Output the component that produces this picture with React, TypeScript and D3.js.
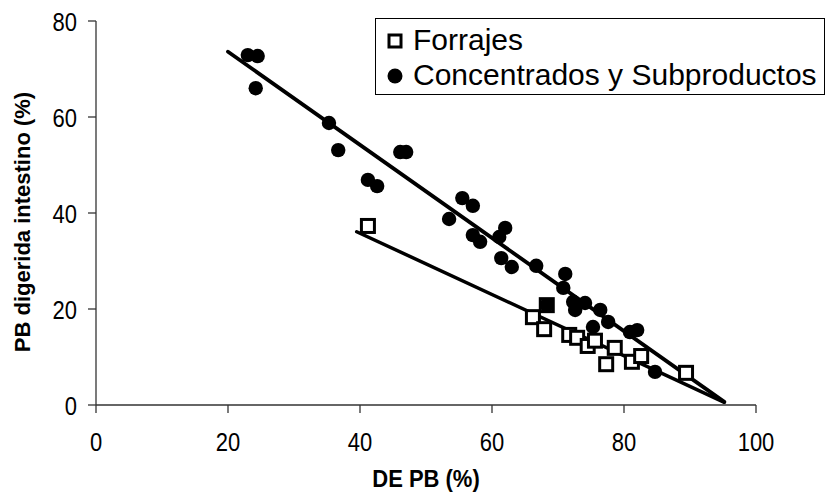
import React from "react";
import * as d3 from "d3";

// Forrajes (open squares): [DE PB %, PB digerida intestino %]
const forrajesX = [41.2, 66.2, 68.3, 67.9, 71.7, 72.9, 74.5, 75.6, 78.6, 77.3, 81.2, 82.6, 89.4];
const forrajesY = [37.3, 18.3, 20.8, 15.8, 14.6, 14.0, 12.3, 13.4, 11.9, 8.5, 9.0, 10.2, 6.7];

// Concentrados y Subproductos (filled circles)
const concX = [23.0, 24.5, 24.2, 35.3, 36.7, 41.2, 42.6, 46.1, 47.0, 53.5, 55.5, 57.1, 57.1, 58.2, 61.1, 62.0, 61.4, 63.0, 66.7, 71.1, 70.8, 68.3, 72.3, 72.6, 74.1, 76.4, 77.6, 75.3, 80.9, 82.0, 84.7];
const concY = [72.9, 72.7, 66.0, 58.75, 53.1, 46.9, 45.6, 52.7, 52.7, 38.75, 43.1, 41.5, 35.4, 34.0, 35.0, 36.9, 30.6, 28.75, 29.0, 27.3, 24.4, 20.8, 21.5, 19.8, 21.25, 19.8, 17.3, 16.25, 15.2, 15.6, 6.9];

// Regression lines: [x start, x end], intercept, slope
const concLineX = [20, 95.2];
const concLine = { a: 93.0, b: -0.97 };
const forrLineX = [39.5, 95.2];
const forrLine = { a: 61.3, b: -0.638 };

const xTicks = [0, 20, 40, 60, 80, 100];
const yTicks = [0, 20, 40, 60, 80];

const legendLabels = ["Forrajes", "Concentrados y Subproductos"];
const xTitle = "DE PB (%)";
const yTitle = "PB digerida intestino (%)";

const FONT = "'Liberation Sans', Arial, sans-serif";

export default function App() {
  const x = d3.scaleLinear().domain([0, 100]).range([96, 756]);
  const y = d3.scaleLinear().domain([0, 80]).range([405, 21]);

  const concPath = d3.line<number>().x((d) => x(d)).y((d) => y(concLine.a + concLine.b * d))(concLineX);
  const forrPath = d3.line<number>().x((d) => x(d)).y((d) => y(forrLine.a + forrLine.b * d))(forrLineX);

  const sq = 13;
  const stretch = 1.2;

  return (
    <svg
      width={830}
      height={497}
      style={{ position: "absolute", left: 0, top: 0, background: "#fff" }}
      fontFamily={FONT}
    >
      <rect x={0} y={0} width={830} height={497} fill="#fff" />
      {/* axes */}
      <line x1={x(0)} x2={x(0)} y1={y(80)} y2={y(0)} stroke="#333" strokeWidth={1.3} />
      <line x1={x(0)} x2={x(100)} y1={y(0)} y2={y(0)} stroke="#333" strokeWidth={1.3} />
      {yTicks.map((t) => (
        <g key={"y" + t}>
          <line x1={x(0) - 8} x2={x(0)} y1={y(t)} y2={y(t)} stroke="#333" strokeWidth={1.3} />
          <text
            transform={`translate(${x(0) - 19},${y(t) + 9.5}) scale(1,${stretch})`}
            textAnchor="end"
            fontSize={22}
            fill="#000"
          >
            {t}
          </text>
        </g>
      ))}
      {xTicks.map((t) => (
        <g key={"x" + t}>
          <line x1={x(t)} x2={x(t)} y1={y(0)} y2={y(0) + 8} stroke="#333" strokeWidth={1.3} />
          <text
            transform={`translate(${x(t)},${451}) scale(1,${stretch})`}
            textAnchor="middle"
            fontSize={22}
            fill="#000"
          >
            {t}
          </text>
        </g>
      ))}
      <text
        transform={`translate(${(x(0) + x(100)) / 2},${487}) scale(1,1.1)`}
        textAnchor="middle"
        fontSize={22}
        fontWeight="bold"
        fill="#000"
      >
        {xTitle}
      </text>
      <text
        transform={`translate(${30},${222}) rotate(-90)`}
        textAnchor="middle"
        fontSize={22}
        fontWeight="bold"
        fill="#000"
      >
        {yTitle}
      </text>

      {/* regression lines */}
      <path d={forrPath || ""} stroke="#000" strokeWidth={3.5} fill="none" strokeLinecap="round" />
      <path d={concPath || ""} stroke="#000" strokeWidth={3.8} fill="none" strokeLinecap="round" />

      {/* data */}
      {forrajesX.map((d, i) => (
        <rect
          key={"f" + i}
          x={x(d) - sq / 2}
          y={y(forrajesY[i]) - sq / 2}
          width={sq}
          height={sq}
          fill="#fff"
          stroke="#000"
          strokeWidth={3}
        />
      ))}
      {concX.map((d, i) => (
        <circle key={"c" + i} cx={x(d)} cy={y(concY[i])} r={7.2} fill="#000" />
      ))}

      {/* legend */}
      <rect x={375.5} y={18.5} width={449} height={76} fill="#fff" stroke="#000" strokeWidth={1} />
      <rect x={389} y={35} width={12} height={12} fill="#fff" stroke="#000" strokeWidth={3} />
      <circle cx={395} cy={76} r={7.5} fill="#000" />
      <text x={413} y={50} fontSize={30} fill="#000">
        {legendLabels[0]}
      </text>
      <text x={413} y={85} fontSize={30} fill="#000">
        {legendLabels[1]}
      </text>
    </svg>
  );
}
